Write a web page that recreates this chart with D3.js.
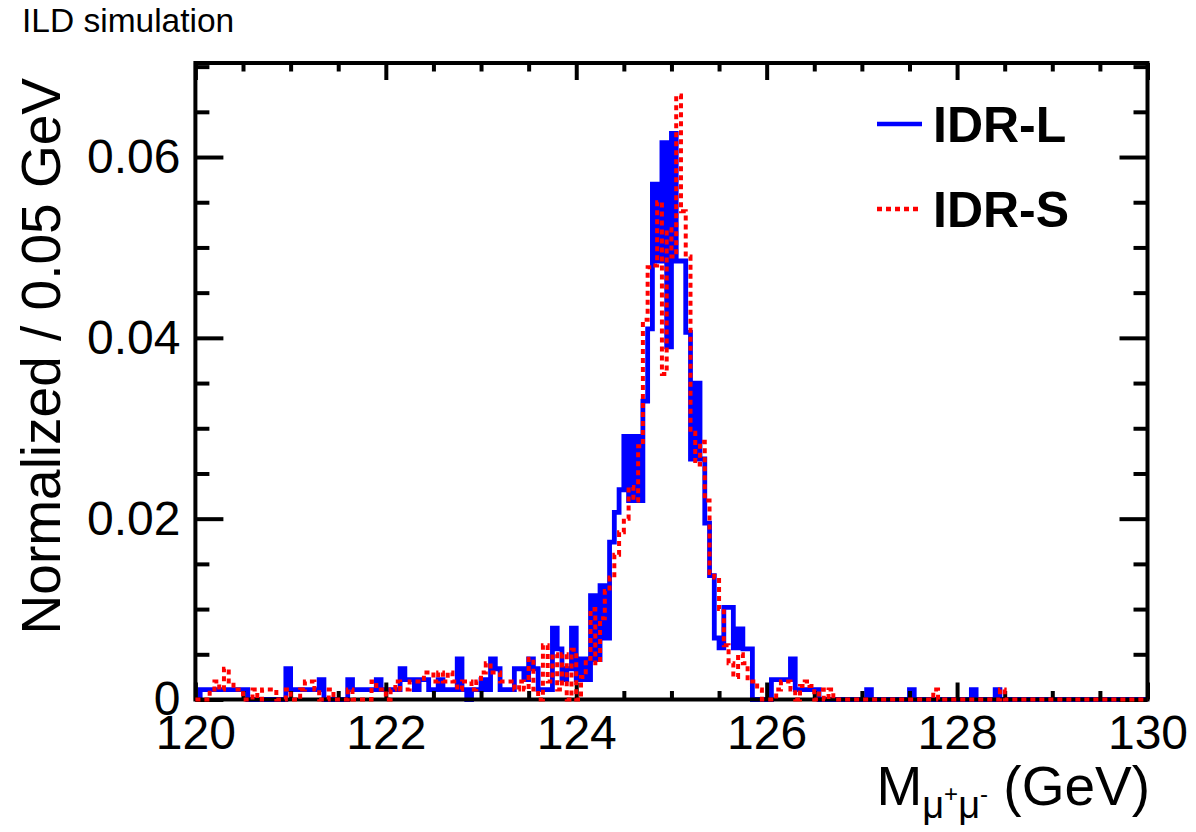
<!DOCTYPE html>
<html>
<head>
<meta charset="utf-8">
<script src="https://cdn.jsdelivr.net/npm/d3@7"></script>
<style>
  body { margin: 0; background: #fff; }
  text { font-family: "Liberation Sans", Arial, Helvetica, sans-serif; }
</style>
</head>
<body>
<div id="chart"></div>
<script>
// Histogram binning: 200 bins of 0.05 GeV between 120 and 130 GeV
const binLow = 120, binWidth = 0.05;

// Bin contents, in units of 1e-3 (normalized / 0.05 GeV)
const idrL = [
  0, 1.1, 1.1, 1.1, 1.1, 1.1, 1.1, 1.1, 1.1, 1.1,
  1.1, 0, 0, 0, 0, 0, 0, 0, 0, 3.4,
  1.1, 1.1, 1.1, 1.1, 1.1, 1.1, 2.2, 0, 0, 0,
  0, 0, 2.2, 1.1, 1.1, 1.1, 1.1, 1.1, 2.2, 1.1,
  1.1, 1.1, 1.1, 3.4, 2.2, 2.2, 1.1, 2.2, 2.2, 1.1,
  1.1, 2.2, 1.1, 1.1, 1.1, 4.5, 1.1, 0, 1.1, 1.1,
  2.2, 1.1, 4.5, 3.4, 1.1, 1.1, 1.1, 3.4, 3.4, 2.2,
  4.5, 3.4, 1.1, 1.1, 1.1, 7.9, 5.6, 2.2, 3.4, 7.9,
  2.2, 4.5, 2.2, 11.5, 4.4, 12.6, 6.8, 17.4, 20.7, 23.2,
  29.1, 22.0, 29.1, 22.0, 33.0, 41.0, 57.0, 48.5, 61.6, 39.0,
  62.6, 48.5, 48.5, 40.6, 26.6, 35.0, 26.6, 19.5, 13.7, 6.8,
  5.7, 10.2, 10.2, 5.7, 7.8, 5.6, 5.6, 0, 0, 0,
  0, 2.2, 2.2, 2.2, 2.2, 4.5, 1.1, 1.1, 1.1, 1.1,
  1.1, 0, 0, 0, 0, 0, 0, 0, 0, 0,
  0, 1.1, 0, 0, 0, 0, 0, 0, 0, 0,
  1.1, 0, 0, 0, 0, 0, 0, 0, 0, 0,
  0, 0, 0, 1.1, 0, 0, 0, 0, 1.1, 0,
  0, 0, 0, 0, 0, 0, 0, 0, 0, 0,
  0, 0, 0, 0, 0, 0, 0, 0, 0, 0,
  0, 0, 0, 0, 0, 0, 0, 0, 0, 0
];

const idrS = [
  0, 0, 0, 1.1, 2.0, 1.1, 3.4, 2.0, 1.1, 1.1,
  0, 0, 1.1, 0, 1.1, 1.1, 1.1, 0, 0, 1.1,
  0, 0, 1.1, 2.0, 2.0, 1.1, 0, 0, 1.1, 0,
  0, 0, 1.1, 0, 0, 0, 0, 2.0, 1.1, 1.1,
  0, 1.1, 2.0, 1.1, 1.1, 2.0, 2.0, 2.0, 3.0, 3.0,
  2.0, 3.0, 2.0, 3.0, 2.0, 1.1, 2.0, 2.0, 1.1, 2.0,
  3.0, 4.0, 3.0, 3.0, 2.0, 2.0, 2.0, 1.1, 2.0, 1.1,
  4.5, 1.1, 0, 6.0, 2.0, 5.0, 1.1, 5.0, 0, 5.5,
  0, 2.5, 4.5, 10.0, 4.0, 9.0, 12.0, 13.5, 16.0, 18.5,
  20.0, 23.5, 22.0, 28.0, 42.0, 47.8, 48.0, 55.0, 36.0, 52.0,
  49.0, 66.8, 54.0, 49.0, 29.5, 26.0, 28.5, 22.0, 14.0, 13.5,
  10.0, 6.0, 4.0, 2.5, 5.0, 4.0, 2.0, 2.0, 1.1, 0,
  0, 0, 1.1, 2.0, 2.0, 1.1, 0, 1.5, 2.0, 1.5,
  0, 1.1, 0, 1.1, 0, 0, 0, 0, 0, 0,
  0, 0, 0, 0, 0, 0, 0, 0, 0, 0,
  0, 0, 0, 0, 0, 1.1, 0, 0, 0, 0,
  0, 0, 0, 0, 0, 0, 0, 0, 0, 1.1,
  0, 0, 0, 0, 0, 0, 0, 0, 0, 0,
  0, 0, 0, 0, 0, 0, 0, 0, 0, 0,
  0, 0, 0, 0, 0, 0, 0, 0, 0, 0
];

// Axis ticks
const xMajor = [120, 122, 124, 126, 128, 130];
const xMinor = d3.range(120, 130.01, 0.5).filter(v => !xMajor.includes(v));
const yMajor = [0, 0.02, 0.04, 0.06];
const yMinor = d3.range(0, 0.0701, 0.005).filter(v => !yMajor.some(m => Math.abs(m - v) < 1e-9));

const seriesNames = ["IDR-L", "IDR-S"];

// Dimensions
const W = 1196, H = 832;
const frame = { left: 195.4, right: 1147.5, top: 63, bottom: 699.5 };

const svg = d3.select("#chart")
  .append("svg")
  .attr("width", W)
  .attr("height", H)
  .style("display", "block");

svg.append("rect").attr("width", W).attr("height", H).attr("fill", "#fff");

// Scales
const x = d3.scaleLinear().domain([120, 130]).range([frame.left, frame.right]);
const y = d3.scaleLinear().domain([0, 0.0704]).range([frame.bottom, frame.top]);

// Turn bin contents into step points (left edge of each bin + closing edge)
function toSteps(vals) {
  const pts = vals.map((v, i) => [binLow + i * binWidth, v / 1000]);
  pts.push([binLow + vals.length * binWidth, vals[vals.length - 1] / 1000]);
  return pts;
}

const step = d3.line()
  .x(d => x(d[0]))
  .y(d => y(d[1]))
  .curve(d3.curveStepAfter);

// IDR-L (blue, solid, drawn below the frame)
svg.append("path")
  .datum(toSteps(idrL))
  .attr("fill", "none")
  .attr("stroke", "#0000ff")
  .attr("stroke-width", 4.8)
  .attr("d", step);

// Frame
svg.append("rect")
  .attr("x", frame.left)
  .attr("y", frame.top)
  .attr("width", frame.right - frame.left)
  .attr("height", frame.bottom - frame.top)
  .attr("fill", "none")
  .attr("stroke", "#000")
  .attr("stroke-width", 4);

function styleAxis(g) {
  g.select(".domain").remove();
  g.selectAll(".tick line").attr("stroke", "#000").attr("stroke-width", 4);
  g.selectAll(".tick text")
    .attr("fill", "#000")
    .style("font-size", "48px")
    .style("font-family", "'Liberation Sans', Arial, Helvetica, sans-serif");
}

// Bottom axis
svg.append("g")
  .attr("transform", `translate(0,${frame.bottom})`)
  .call(d3.axisBottom(x).tickValues(xMajor).tickSize(-17).tickPadding(15).tickFormat(d3.format("d")))
  .call(styleAxis);
svg.append("g")
  .attr("transform", `translate(0,${frame.bottom})`)
  .call(d3.axisBottom(x).tickValues(xMinor).tickSize(-8.5).tickFormat(""))
  .call(styleAxis);

// Top axis
svg.append("g")
  .attr("transform", `translate(0,${frame.top})`)
  .call(d3.axisTop(x).tickValues(xMajor).tickSize(-17).tickFormat(""))
  .call(styleAxis);
svg.append("g")
  .attr("transform", `translate(0,${frame.top})`)
  .call(d3.axisTop(x).tickValues(xMinor).tickSize(-8.5).tickFormat(""))
  .call(styleAxis);

// Left axis
svg.append("g")
  .attr("transform", `translate(${frame.left},0)`)
  .call(d3.axisLeft(y).tickValues(yMajor).tickSize(-28).tickPadding(15)
    .tickFormat(d => d === 0 ? "0" : d3.format(".2f")(d)))
  .call(styleAxis);
svg.append("g")
  .attr("transform", `translate(${frame.left},0)`)
  .call(d3.axisLeft(y).tickValues(yMinor).tickSize(-14).tickFormat(""))
  .call(styleAxis);

// Right axis
svg.append("g")
  .attr("transform", `translate(${frame.right},0)`)
  .call(d3.axisRight(y).tickValues(yMajor).tickSize(-28).tickFormat(""))
  .call(styleAxis);
svg.append("g")
  .attr("transform", `translate(${frame.right},0)`)
  .call(d3.axisRight(y).tickValues(yMinor).tickSize(-14).tickFormat(""))
  .call(styleAxis);

// IDR-S (red, dotted, drawn over the frame)
svg.append("path")
  .datum(toSteps(idrS))
  .attr("fill", "none")
  .attr("stroke", "#ff0000")
  .attr("stroke-width", 4)
  .attr("stroke-dasharray", "5,4")
  .attr("d", step);

// Axis titles
svg.append("text")
  .attr("transform", "translate(60,78) rotate(-90)")
  .attr("text-anchor", "end")
  .style("font-size", "55px")
  .text("Normalized / 0.05 GeV");

const xt = svg.append("text")
  .attr("x", 1150)
  .attr("y", 805)
  .attr("text-anchor", "end")
  .style("font-size", "55px");
xt.append("tspan").text("M");
xt.append("tspan").attr("dy", 13).style("font-size", "38px").text("μ");
xt.append("tspan").attr("dy", -16).style("font-size", "24px").text("+");
xt.append("tspan").attr("dy", 16).style("font-size", "38px").text("μ");
xt.append("tspan").attr("dy", -16).style("font-size", "24px").text("-");
xt.append("tspan").attr("dy", 3).text(" (GeV)");

// Header
svg.append("text")
  .attr("x", 22)
  .attr("y", 32)
  .style("font-size", "33.5px")
  .text("ILD simulation");

// Legend
const legend = svg.append("g");
const legendRows = [
  { name: seriesNames[0], color: "#0000ff", dash: null, y: 124 },
  { name: seriesNames[1], color: "#ff0000", dash: "5,4", y: 209 }
];
legendRows.forEach(r => {
  legend.append("line")
    .attr("x1", 877).attr("x2", 922)
    .attr("y1", r.y).attr("y2", r.y)
    .attr("stroke", r.color)
    .attr("stroke-width", 4.5)
    .attr("stroke-dasharray", r.dash);
  legend.append("text")
    .attr("x", 933)
    .attr("y", r.y + 18)
    .style("font-size", "50px")
    .style("font-weight", "bold")
    .text(r.name);
});
</script>
</body>
</html>
